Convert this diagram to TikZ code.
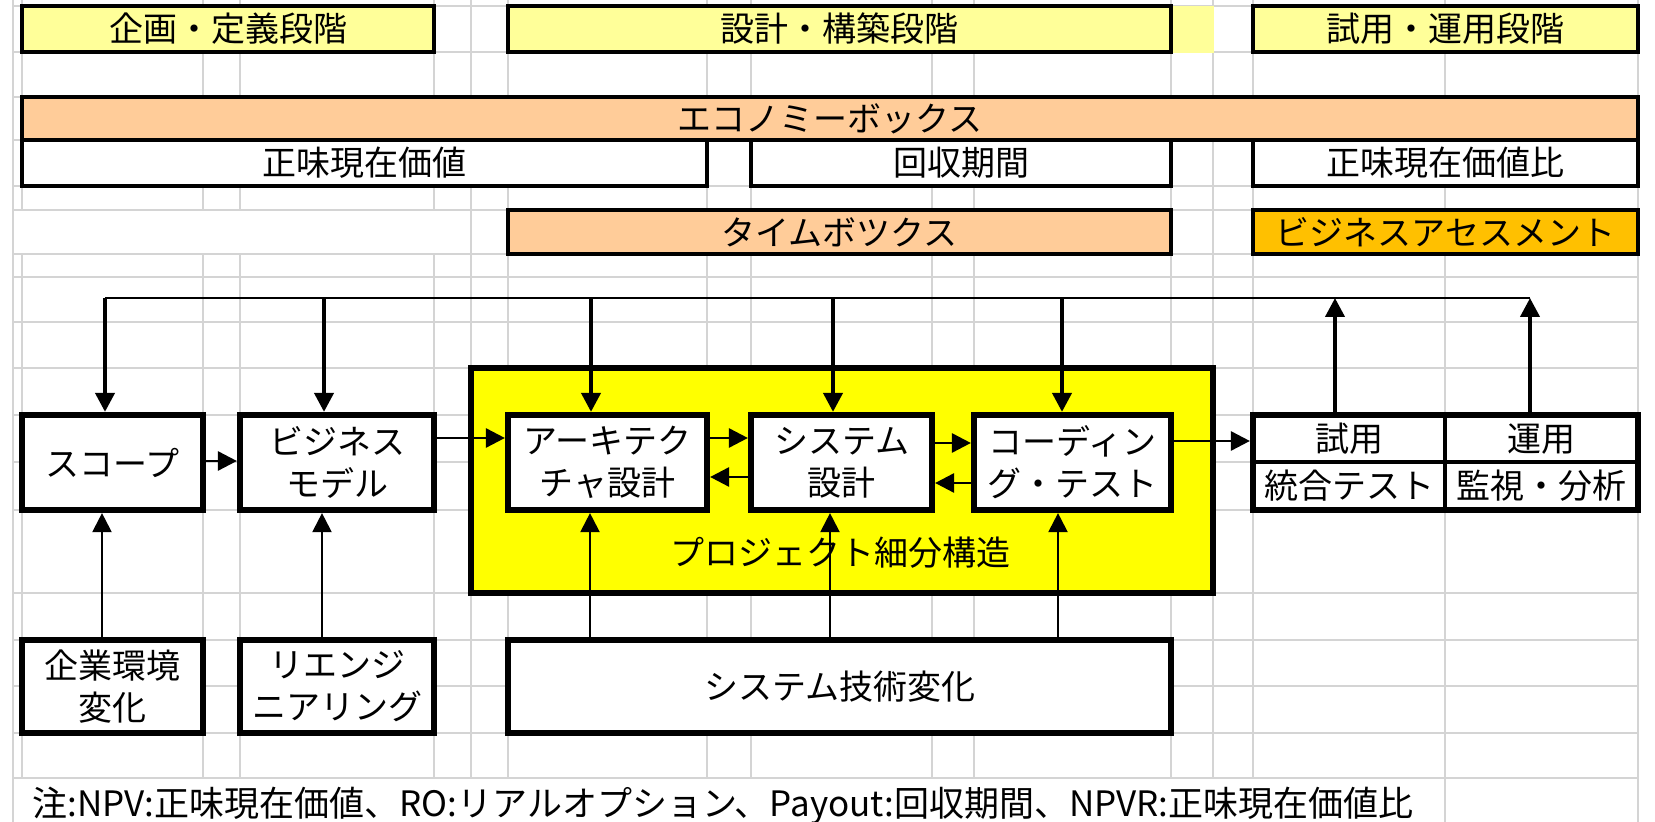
\documentclass[tikz,border=0pt]{standalone}
\usepackage{fontspec}
\newfontfamily\jpf{Noto Sans CJK JP}
\usetikzlibrary{arrows.meta,fit}
\definecolor{gridgray}{HTML}{D4D4D4}
\definecolor{lyellow}{HTML}{FFFF99}
\definecolor{lorange}{HTML}{FFCC99}
\definecolor{bgold}{HTML}{FFC000}
\definecolor{pyellow}{HTML}{FFFF00}
\newcommand\boxfnt{\jpf\fontsize{17pt}{21pt}\selectfont}
\newcommand\notefnt{\jpf\fontsize{17.5pt}{20pt}\selectfont}
\begin{document}
\begin{tikzpicture}[x=0.5pt,y=-0.5pt,
  gridl/.style={draw=gridgray,line width=1pt},
  thinbox/.style={draw=black,line width=1.7pt,inner sep=0pt},
  thickbox/.style={draw=black,line width=3.1pt,fill=white,inner sep=0pt},
  tiptri/.style={-{Triangle[length=9.5pt,width=9.5pt]}},
  dnarrow/.style={tiptri,line width=2pt},
  uparrow/.style={tiptri,line width=1.1pt},
  harrow/.style={tiptri,line width=1.4pt},
  topline/.style={line width=1.3pt},
  celltext/.style={font=\boxfnt,inner sep=0pt,align=center},
]
\useasboundingbox (0,0) rectangle (1655,822);
\fill[white] (0,0) rectangle (1655,822);
% grid
\foreach \x in {13,22,203,240,434,471,508,707,751,932,974,1171,1213,1253,1445,1638}
  \draw[gridl] (\x,0) -- (\x,822);
\foreach \y in {6,52,97,140,186,210,254,277,322,368,415,462,510,593,640,686,733,778}
  \draw[gridl] (13,\y) -- (1638,\y);
\fill[white] (14,211) rectangle (470,253);
\fill[white] (14,779) rectangle (1444,822);
% phases
\fill[lyellow] (1171,6) rectangle (1214,53);
\node[thinbox,fill=lyellow,fit={(22,6)(434,52)}] (ph1) {};
\node[thinbox,fill=lyellow,fit={(508,6)(1171,52)}] (ph2) {};
\node[thinbox,fill=lyellow,fit={(1253,6)(1638,52)}] (ph3) {};
\node[celltext] (ph1t) at (ph1.center) {企画・定義段階};
\node[celltext] (ph2t) at (ph2.center) {設計・構築段階};
\node[celltext] (ph3t) at (ph3.center) {試用・運用段階};
% economy
\node[thinbox,fill=lorange,fit={(22,97)(1638,140)}] (eco) {};
\node[thinbox,fill=white,fit={(22,140)(707,186)}] (npv) {};
\node[thinbox,fill=white,fit={(751,140)(1171,186)}] (pay) {};
\node[thinbox,fill=white,fit={(1253,140)(1638,186)}] (npvr) {};
\node[thinbox,fill=lorange,fit={(508,210)(1171,254)}] (tbox) {};
\node[thinbox,fill=bgold,fit={(1253,210)(1638,254)}] (bas) {};
\node[celltext] (ecot) at (eco.center) {エコノミーボックス};
\node[celltext] (npvt) at (npv.center) {正味現在価値};
\node[celltext] (payt) at (pay.center) {回収期間};
\node[celltext] (npvrt) at (npvr.center) {正味現在価値比};
\node[celltext] (tboxt) at (tbox.center) {タイムボツクス};
\node[celltext] (bast) at (bas.center) {ビジネスアセスメント};
% project box
\node[draw,line width=3.1pt,fill=pyellow,inner sep=0pt,fit={(471,368)(1213,593)}] (pws) {};
\node[celltext] (pwslabel) at (840,553) {プロジェクト細分構造};
% main boxes
\node[thickbox,fit={(22,415)(203,510)}] (scope) {};
\node[thickbox,fit={(240,415)(434,510)}] (bm) {};
\node[thickbox,fit={(508,415)(707,510)}] (arch) {};
\node[thickbox,fit={(751,415)(932,510)}] (sys) {};
\node[thickbox,fit={(974,415)(1171,510)}] (cod) {};
\node[celltext] (scopet) at (scope.center) {スコープ};
\node[celltext] (bmt) at (bm.center) {ビジネス\\モデル};
\node[celltext] (archt) at (arch.center) {アーキテク\\チャ設計};
\node[celltext] (syst) at (sys.center) {システム\\設計};
\node[celltext] (codt) at (cod.center) {コーディン\\グ・テスト};
\node[thickbox,fit={(1253,415)(1638,510)}] (tbl) {};
\draw[line width=2pt] (tbl.north -| 1445,0) -- (tbl.south -| 1445,0);
\draw[line width=2pt] (tbl.west |- 0,462) -- (tbl.east |- 0,462);
\node[celltext] (try) at (1349,439) {試用};
\node[celltext] (itest) at (1349,486) {統合テスト};
\node[celltext] (ops) at (1541,439) {運用};
\node[celltext] (mon) at (1541,486) {監視・分析};
% bottom boxes
\node[thickbox,fit={(22,640)(203,733)}] (env) {};
\node[thickbox,fit={(240,640)(434,733)}] (reeng) {};
\node[thickbox,fit={(508,640)(1171,733)}] (tech) {};
\node[celltext] (envt) at (env.center) {企業環境\\変化};
\node[celltext] (reengt) at (reeng.center) {リエンジ\\ニアリング};
\node[celltext] (techt) at (tech.center) {システム技術変化};
% note
\node[anchor=west,font=\notefnt,inner sep=0pt] (note) at (32,806) {注:NPV:正味現在価値、RO:リアルオプション、Payout:回収期間、NPVR:正味現在価値比};
% top feedback line
\coordinate (t1) at (105,298);
\coordinate (t2) at (324,298);
\coordinate (t3) at (591,298);
\coordinate (t4) at (833,298);
\coordinate (t5) at (1062,298);
\coordinate (t6) at (1335,298);
\coordinate (t7) at (1530,298);
\draw[topline] (t1) -- (t7);
\draw[dnarrow] (t1) -- (t1 |- scope.north);
\draw[dnarrow] (t2) -- (t2 |- bm.north);
\draw[dnarrow] (t3) -- (t3 |- arch.north);
\draw[dnarrow] (t4) -- (t4 |- sys.north);
\draw[dnarrow] (t5) -- (t5 |- cod.north);
\draw[dnarrow] (t6 |- tbl.north) -- (t6);
\draw[dnarrow] (t7 |- tbl.north) -- (t7);
% bottom up arrows
\coordinate (b1) at (102,600);
\coordinate (b2) at (322,600);
\coordinate (b3) at (590,600);
\coordinate (b4) at (830,600);
\coordinate (b5) at (1058,600);
\draw[uparrow] (b1 |- env.north) -- (b1 |- scope.south);
\draw[uparrow] (b2 |- reeng.north) -- (b2 |- bm.south);
\draw[uparrow] (b3 |- tech.north) -- (b3 |- arch.south);
\draw[uparrow] (b4 |- tech.north) -- (b4 |- sys.south);
\draw[uparrow] (b5 |- tech.north) -- (b5 |- cod.south);
% horizontal arrows
\coordinate (h1) at (0,461);
\coordinate (h2) at (0,438);
\coordinate (h3) at (0,477);
\coordinate (h4) at (0,443);
\coordinate (h5) at (0,483);
\coordinate (h6) at (0,441);
\draw[harrow] (scope.east |- h1) -- (bm.west |- h1);
\draw[harrow] (bm.east |- h2) -- (arch.west |- h2);
\draw[harrow] (arch.east |- h2) -- (sys.west |- h2);
\draw[harrow] (sys.west |- h3) -- (arch.east |- h3);
\draw[harrow] (sys.east |- h4) -- (cod.west |- h4);
\draw[harrow] (cod.west |- h5) -- (sys.east |- h5);
\draw[harrow] (cod.east |- h6) -- (tbl.west |- h6);
\end{tikzpicture}
\end{document}
